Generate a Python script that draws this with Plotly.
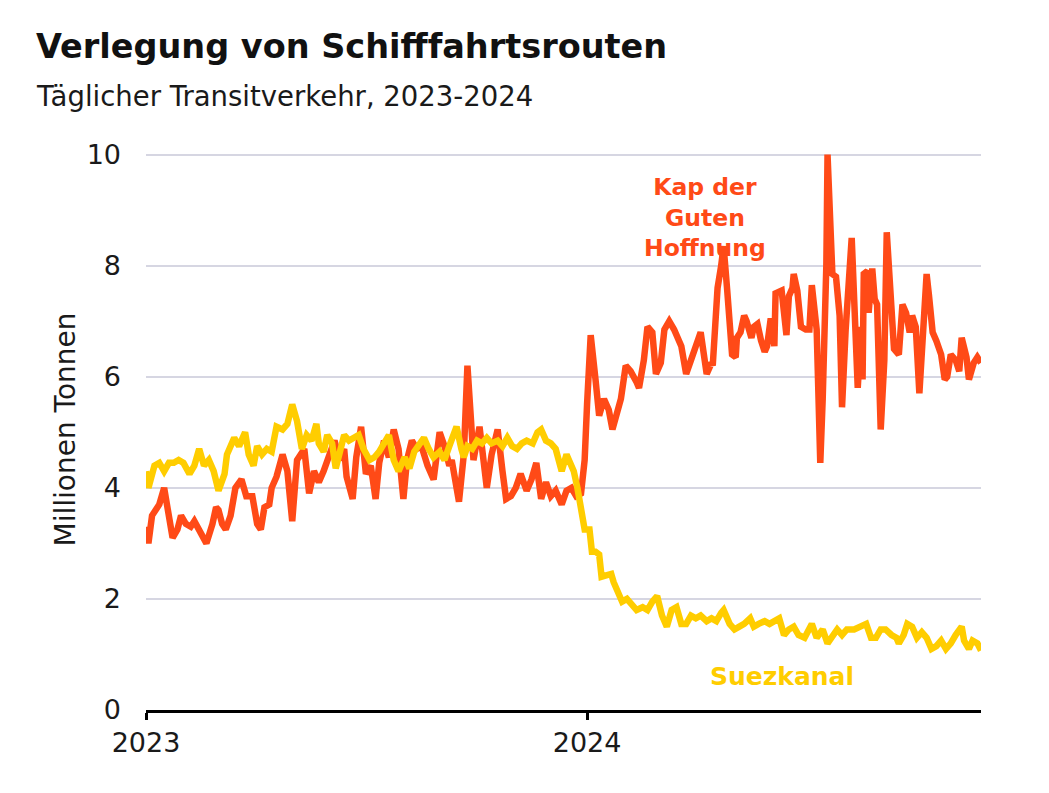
import pandas as pd
import plotly.graph_objects as go

BASE = pd.Timestamp("2023-01-01")

# Kap der Guten Hoffnung: day offset from 2023-01-01, value (Mio. t)
kap_days = [0, 2, 5, 11, 15, 19, 22, 26, 29, 33, 37, 40, 44, 48, 50, 55, 58, 60, 63, 66,
            70, 74, 79, 83, 88, 92, 95, 98, 102, 104, 108, 113, 117, 121, 125, 131, 135, 139, 143, 147,
            151, 156, 160, 164, 166, 171, 174, 178, 182, 186, 190, 193, 197, 201, 205, 209, 213, 216, 220, 224,
            228, 233, 238, 243, 247, 251, 253, 259, 263, 266, 269, 271, 276, 280, 282, 286, 291, 295, 298, 302,
            306, 310, 315, 319, 323, 327, 331, 335, 339, 344, 348, 352, 356, 360, 363, 365, 368, 372, 375, 379,
            383, 386, 389, 393, 397, 401, 406, 408, 412, 415, 419, 422, 426, 429, 433, 437, 443, 447, 451, 455,
            459, 464, 468, 469, 473, 476, 478, 481, 483, 485, 488, 489, 492, 495, 497, 501, 503, 506, 509, 512,
            514, 517, 520, 521, 526, 528, 530, 532, 535, 536, 539, 542, 546, 549, 551, 555, 558, 560, 563, 564,
            568, 571, 574, 576, 579, 584, 586, 589, 592, 593, 594, 597, 598, 601, 603, 605, 608, 611, 613, 617,
            619, 623, 626, 629, 632, 634, 637, 640, 642, 646, 648, 651, 654, 658, 661, 663, 666, 670, 673, 675,
            679, 681, 685, 688, 691]
kap_vals = [3.3, 3.0, 3.5, 3.7, 4.0, 3.4, 3.1, 3.25, 3.5, 3.35, 3.3, 3.4, 3.25, 3.1, 3.0, 3.35, 3.65, 3.6, 3.35, 3.25,
            3.5, 4.0, 4.15, 3.85, 3.85, 3.35, 3.25, 3.65, 3.7, 4.0, 4.2, 4.6, 4.3, 3.4, 4.5, 4.7, 3.9, 4.3, 4.1, 4.3,
            4.55, 4.85, 4.5, 4.7, 4.2, 3.8, 4.55, 5.1, 4.25, 4.4, 3.8, 4.45, 4.85, 4.55, 5.05, 4.7, 3.8, 4.5, 4.85, 4.7,
            4.75, 4.4, 4.15, 5.0, 4.75, 4.4, 4.5, 3.75, 4.6, 6.2, 5.2, 4.5, 5.1, 4.45, 4.0, 4.6, 5.05, 4.3, 3.8, 3.85,
            4.0, 4.25, 3.95, 4.15, 4.45, 3.8, 4.1, 3.85, 3.95, 3.7, 3.95, 4.0, 3.85, 3.9, 4.5, 5.5, 6.75, 5.95, 5.3, 5.6,
            5.4, 5.05, 5.3, 5.6, 6.2, 6.1, 5.9, 5.8, 6.3, 6.9, 6.8, 6.05, 6.25, 6.85, 7.0, 6.85, 6.55, 6.05, 6.3, 6.55,
            6.8, 6.05, 6.25, 6.2, 7.6, 8.0, 8.35, 7.55, 6.8, 6.4, 6.35, 6.7, 6.8, 7.1, 7.0, 6.7, 6.9, 6.95, 6.65, 6.45,
            6.55, 7.05, 6.55, 7.5, 7.55, 7.05, 6.75, 7.45, 7.6, 7.85, 7.55, 6.9, 6.85, 6.85, 7.65, 6.85, 4.45, 5.6, 8.0, 10.0,
            7.85, 7.8, 7.1, 5.45, 6.85, 8.5, 7.4, 5.8, 6.9, 5.95, 7.85, 7.9, 7.15, 7.95, 7.4, 7.3, 5.05, 6.3, 8.6, 7.25,
            6.5, 6.4, 7.3, 7.15, 6.8, 7.1, 6.9, 5.7, 6.55, 7.85, 7.45, 6.8, 6.65, 6.4, 5.95, 6.0, 6.4, 6.3, 6.1, 6.7,
            6.35, 5.95, 6.25, 6.35, 6.25]

# Suezkanal
suez_days = [0, 2, 7, 11, 15, 19, 23, 27, 31, 36, 40, 44, 48, 52, 56, 60, 65, 67, 73, 77,
             82, 85, 89, 92, 96, 100, 104, 108, 113, 117, 121, 125, 129, 133, 137, 141, 143, 147, 150, 154,
             157, 161, 164, 168, 172, 176, 180, 185, 189, 193, 197, 201, 205, 209, 214, 218, 222, 226, 230, 234,
             238, 243, 247, 251, 257, 261, 263, 266, 270, 274, 278, 282, 286, 291, 295, 299, 303, 307, 311, 315,
             320, 324, 327, 331, 335, 339, 344, 348, 350, 354, 357, 360, 363, 367, 369, 372, 375, 377, 382, 385,
             387, 392, 394, 398, 402, 406, 411, 415, 419, 423, 427, 431, 435, 439, 443, 447, 451, 455, 459, 464,
             468, 472, 476, 478, 483, 487, 491, 495, 500, 503, 507, 512, 516, 520, 524, 528, 532, 536, 540, 545,
             549, 551, 555, 560, 564, 568, 572, 576, 580, 586, 592, 596, 600, 604, 608, 612, 617, 621, 623, 627,
             630, 634, 638, 642, 646, 650, 654, 658, 662, 666, 670, 675, 677, 681, 684, 688, 691]
suez_vals = [4.3, 4.0, 4.4, 4.45, 4.3, 4.45, 4.45, 4.5, 4.45, 4.25, 4.4, 4.7, 4.4, 4.5, 4.3, 3.95, 4.25, 4.6, 4.9, 4.75,
             5.0, 4.6, 4.4, 4.75, 4.6, 4.7, 4.65, 5.1, 5.05, 5.15, 5.5, 5.2, 4.7, 4.95, 4.85, 5.15, 4.8, 4.65, 4.95, 4.8,
             4.35, 4.65, 4.95, 4.85, 4.9, 4.95, 4.7, 4.5, 4.55, 4.65, 4.8, 4.95, 4.5, 4.3, 4.55, 4.35, 4.65, 4.8, 4.9, 4.7,
             4.55, 4.65, 4.5, 4.75, 5.1, 4.7, 4.55, 4.75, 4.7, 4.85, 4.8, 4.9, 4.8, 4.85, 4.75, 4.9, 4.75, 4.7, 4.8, 4.85,
             4.8, 5.0, 5.05, 4.85, 4.8, 4.7, 4.3, 4.6, 4.5, 4.3, 4.0, 3.6, 3.25, 3.25, 2.85, 2.85, 2.8, 2.4, 2.45, 2.45,
             2.3, 2.0, 1.95, 2.0, 1.9, 1.8, 1.85, 1.8, 1.95, 2.05, 1.7, 1.5, 1.8, 1.85, 1.55, 1.55, 1.7, 1.65, 1.7, 1.6,
             1.65, 1.6, 1.75, 1.8, 1.55, 1.45, 1.5, 1.55, 1.65, 1.5, 1.55, 1.6, 1.55, 1.6, 1.65, 1.35, 1.45, 1.5, 1.35, 1.3,
             1.45, 1.55, 1.3, 1.45, 1.2, 1.35, 1.45, 1.35, 1.45, 1.45, 1.5, 1.55, 1.3, 1.3, 1.45, 1.45, 1.35, 1.3, 1.2, 1.35,
             1.55, 1.5, 1.3, 1.4, 1.3, 1.1, 1.15, 1.25, 1.1, 1.2, 1.35, 1.5, 1.25, 1.1, 1.25, 1.2, 1.07]

y_ticks = [0, 2, 4, 6, 8, 10]
x_ticks = ["2023-01-01", "2024-01-01"]
x_tick_labels = ["2023", "2024"]

RED = "#FF4A17"
YELLOW = "#FFCD00"
FONT = "DejaVu Sans"

kap_x = [BASE + pd.Timedelta(days=d) for d in kap_days]
suez_x = [BASE + pd.Timedelta(days=d) for d in suez_days]

fig = go.Figure()
fig.add_trace(go.Scatter(x=kap_x, y=kap_vals, mode="lines", name="Kap der Guten Hoffnung",
                         line=dict(color=RED, width=6.5), showlegend=False))
fig.add_trace(go.Scatter(x=suez_x, y=suez_vals, mode="lines", name="Suezkanal",
                         line=dict(color=YELLOW, width=6.5), showlegend=False))

# Series labels
fig.add_annotation(x=BASE + pd.Timedelta(days=463), y=8.86, xref="x", yref="y",
                   text="<b>Kap der<br>Guten<br>Hoffnung</b>", showarrow=False,
                   font=dict(family=FONT, size=23.5, color=RED), align="center")
fig.add_annotation(x=BASE + pd.Timedelta(days=526), y=0.6, xref="x", yref="y",
                   text="<b>Suezkanal</b>", showarrow=False,
                   font=dict(family=FONT, size=25, color=YELLOW), align="center")

# Title and subtitle
fig.add_annotation(x=-0.1341, y=1.1827, xref="paper", yref="paper",
                   text="<b>Verlegung von Schifffahrtsrouten</b>", showarrow=False,
                   xanchor="left", yanchor="middle",
                   font=dict(family=FONT, size=33.5, color="#111111"))
fig.add_annotation(x=-0.1341, y=1.0953, xref="paper", yref="paper",
                   text="Täglicher Transitverkehr, 2023-2024", showarrow=False,
                   xanchor="left", yanchor="middle",
                   font=dict(family=FONT, size=27.5, color="#1a1a1a"))

fig.update_layout(
    width=1049, height=793,
    paper_bgcolor="white", plot_bgcolor="white",
    margin=dict(l=138, r=76, t=141.4, b=91),
    font=dict(family=FONT, size=27, color="#1a1a1a"),
    xaxis=dict(range=["2023-01-01", "2024-11-22"], tickvals=x_ticks, ticktext=x_tick_labels,
               showgrid=False, showline=True, linecolor="black", linewidth=3,
               ticks="outside", ticklen=7, tickwidth=3, tickcolor="black",
               tickfont=dict(size=27), zeroline=False, automargin=False),
    yaxis=dict(range=[0, 10.1], tickvals=y_ticks, showgrid=True, gridcolor="#D6D6E2", gridwidth=2,
               zeroline=False, showline=False, ticks="", ticklabelstandoff=24,
               tickfont=dict(size=27), automargin=False,
               title=dict(text="Millionen Tonnen", font=dict(size=28), standoff=2)),
)

fig.write_html("out.html")
